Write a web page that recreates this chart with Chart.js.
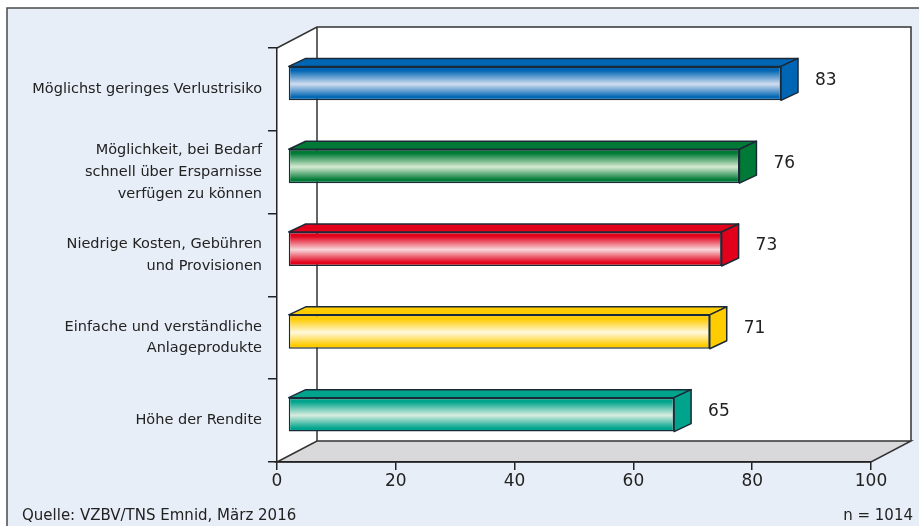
<!DOCTYPE html>
<html>
<head>
    <title>Wichtige Kriterien bei der Geldanlage</title>
    <script src="https://cdn.jsdelivr.net/npm/chart.js"></script>
    <style>
        body { margin: 0; background: #fff; }
        canvas { display: block; }
    </style>
</head>
<body>
    <canvas id="anlageChart" width="919" height="526"></canvas>

    <script>
        // Chart data
        const categories = [
            ['Möglichst geringes Verlustrisiko'],
            ['Möglichkeit, bei Bedarf', 'schnell über Ersparnisse', 'verfügen zu können'],
            ['Niedrige Kosten, Gebühren', 'und Provisionen'],
            ['Einfache und verständliche', 'Anlageprodukte'],
            ['Höhe der Rendite']
        ];
        const values = [83, 76, 73, 71, 65];
        const sourceText = 'Quelle: VZBV/TNS Emnid, März 2016';
        const sampleText = 'n = 1014';

        // Colours per bar (dark edge / light middle)
        const darkColors = ['#0066b3', '#007a36', '#e2001a', '#ffcc00', '#00a48c'];
        const lightColors = ['#d0ddf0', '#d6ebd2', '#f8d6d9', '#fff8dc', '#d8eddf'];

        const FONT = 'DejaVu Sans';
        const DX = 40, DY = -21;     // depth of the 3d box
        const BX = 11, BY = -6;      // front face of bars inside the box
        const BD = 17, BDY = -8;     // bar depth
        const EDGE = '#1c2a38';

        const box3d = {
            id: 'box3d',
            beforeDraw(chart) {
                const ctx = chart.ctx;
                const a = chart.chartArea;
                ctx.save();
                // outer frame
                ctx.fillStyle = '#e8eef7';
                ctx.fillRect(7, 8, 919, 526);
                ctx.strokeStyle = '#4a4a4a';
                ctx.lineWidth = 1.5;
                ctx.strokeRect(7, 8, 930, 540);

                // left wall + back wall
                ctx.fillStyle = '#ffffff';
                ctx.beginPath();
                ctx.moveTo(a.left, a.top);
                ctx.lineTo(a.left + DX, a.top + DY);
                ctx.lineTo(a.right + DX, a.top + DY);
                ctx.lineTo(a.right + DX, a.bottom + DY);
                ctx.lineTo(a.left, a.bottom);
                ctx.closePath();
                ctx.fill();

                // floor
                ctx.fillStyle = '#d9d9db';
                ctx.beginPath();
                ctx.moveTo(a.left, a.bottom);
                ctx.lineTo(a.left + DX, a.bottom + DY);
                ctx.lineTo(a.right + DX, a.bottom + DY);
                ctx.lineTo(a.right, a.bottom);
                ctx.closePath();
                ctx.fill();

                ctx.strokeStyle = '#333';
                ctx.lineWidth = 1.5;
                ctx.stroke();

                // wall edges
                ctx.beginPath();
                ctx.moveTo(a.left, a.top);
                ctx.lineTo(a.left + DX, a.top + DY);
                ctx.lineTo(a.right + DX, a.top + DY);
                ctx.lineTo(a.right + DX, a.bottom + DY);
                ctx.moveTo(a.left + DX, a.top + DY);
                ctx.lineTo(a.left + DX, a.bottom + DY);
                ctx.stroke();
                ctx.restore();
            },
            beforeDatasetsDraw(chart) {
                const ctx = chart.ctx;
                const meta = chart.getDatasetMeta(0);
                meta.data.forEach((bar, i) => {
                    const top = bar.y - bar.height / 2;
                    const bottom = bar.y + bar.height / 2;
                    const g = ctx.createLinearGradient(0, top, 0, bottom);
                    g.addColorStop(0, darkColors[i]);
                    g.addColorStop(0.12, darkColors[i]);
                    g.addColorStop(0.52, lightColors[i]);
                    g.addColorStop(0.9, darkColors[i]);
                    g.addColorStop(1, darkColors[i]);
                    bar.options.backgroundColor = g;
                });
                ctx.save();
                ctx.translate(BX, BY);
            },
            afterDatasetsDraw(chart) {
                const ctx = chart.ctx;
                ctx.restore();
                const meta = chart.getDatasetMeta(0);
                meta.data.forEach((bar, i) => {
                    const left = bar.base + BX;
                    const right = bar.x + BX;
                    const top = bar.y - bar.height / 2 + BY;
                    const bottom = bar.y + bar.height / 2 + BY;
                    ctx.save();
                    ctx.strokeStyle = EDGE;
                    ctx.lineWidth = 1.5;
                    ctx.lineJoin = 'round';
                    ctx.fillStyle = darkColors[i];
                    // top face
                    ctx.beginPath();
                    ctx.moveTo(left, top);
                    ctx.lineTo(left + BD, top + BDY);
                    ctx.lineTo(right + BD, top + BDY);
                    ctx.lineTo(right, top);
                    ctx.closePath();
                    ctx.fill();
                    ctx.stroke();
                    // side face
                    ctx.beginPath();
                    ctx.moveTo(right, top);
                    ctx.lineTo(right + BD, top + BDY);
                    ctx.lineTo(right + BD, bottom + BDY);
                    ctx.lineTo(right, bottom);
                    ctx.closePath();
                    ctx.fill();
                    ctx.stroke();

                    // value label
                    ctx.fillStyle = '#222';
                    ctx.font = '17px "' + FONT + '"';
                    ctx.textAlign = 'left';
                    ctx.textBaseline = 'middle';
                    ctx.fillText(values[i], right + BD + 17, bar.y + BY + BDY / 2 + 1);
                    ctx.restore();
                });
            },
            afterDraw(chart) {
                const ctx = chart.ctx;
                ctx.save();
                ctx.fillStyle = '#222';
                ctx.font = '15px "' + FONT + '"';
                ctx.textBaseline = 'middle';
                ctx.textAlign = 'left';
                ctx.fillText(sourceText, 22, 516);
                ctx.textAlign = 'right';
                ctx.fillText(sampleText, 913, 516);
                ctx.restore();
            }
        };

        const ctx = document.getElementById('anlageChart').getContext('2d');
        const chart = new Chart(ctx, {
            type: 'bar',
            data: {
                labels: categories,
                datasets: [{
                    data: values,
                    backgroundColor: darkColors.slice(),
                    borderColor: EDGE,
                    borderWidth: 1.5,
                    borderSkipped: false,
                    barPercentage: 0.41,
                    categoryPercentage: 1
                }]
            },
            options: {
                indexAxis: 'y',
                responsive: false,
                animation: false,
                layout: { padding: { top: 48, right: 48, bottom: 0, left: 0 } },
                plugins: {
                    legend: { display: false },
                    tooltip: { enabled: false }
                },
                scales: {
                    x: {
                        min: 0,
                        max: 100,
                        ticks: {
                            stepSize: 20,
                            color: '#222',
                            padding: 1,
                            maxRotation: 0,
                            font: { family: FONT, size: 17 }
                        },
                        grid: { drawOnChartArea: false, tickLength: 8, color: '#222', lineWidth: 1.5 },
                        border: { color: '#222', width: 1.5 },
                        afterFit: scale => { scale.height = 64; }
                    },
                    y: {
                        ticks: {
                            color: '#222',
                            padding: 6,
                            font: { family: FONT, size: 14.5, lineHeight: 1.5 }
                        },
                        grid: { drawOnChartArea: false, tickLength: 9, color: '#222', lineWidth: 1.5, offset: true },
                        border: { color: '#222', width: 1.5 },
                        afterFit: scale => { scale.width = 277; }
                    }
                }
            },
            plugins: [box3d]
        });
    </script>
</body>
</html>
